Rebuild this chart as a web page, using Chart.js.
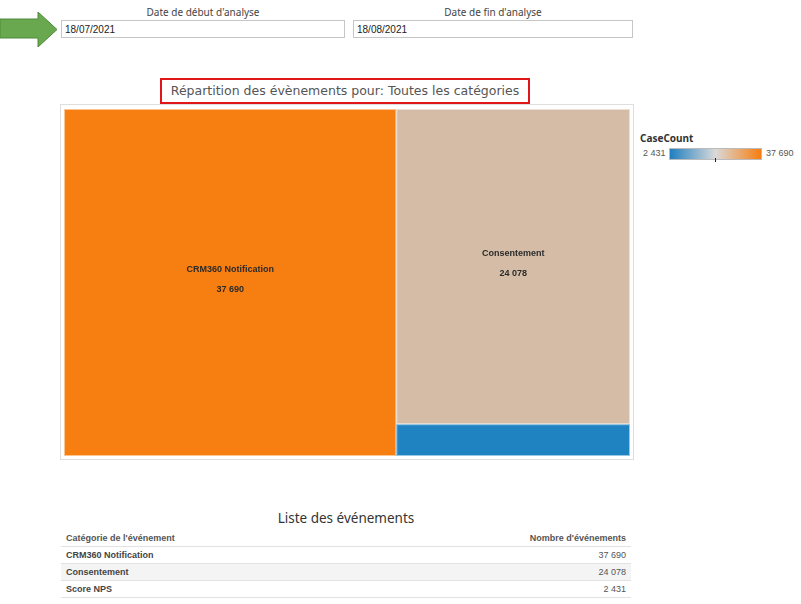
<!DOCTYPE html>
<html><head><meta charset="utf-8">
<script src="https://cdn.jsdelivr.net/npm/chart.js@4"></script>
<style>
html,body{margin:0;padding:0;background:#fff;width:801px;height:604px;overflow:hidden;font-family:"Liberation Sans",Arial,sans-serif;}
.abs{position:absolute;}
.lbl{font-family:"Noto Sans",sans-serif;font-size:10px;color:#444;text-align:center;}
.inp{border:1px solid #c6c6c6;height:16px;font-size:10px;color:#222;line-height:16px;padding-left:3px;box-sizing:border-box;font-family:"Liberation Sans",Arial,sans-serif;}
#title{left:160px;top:78px;width:370px;height:26px;border:2px solid #e0161b;box-sizing:border-box;text-align:center;font-family:"DejaVu Sans",sans-serif;font-size:12.5px;color:#555;line-height:22px;}
#frame{left:60px;top:104px;width:572px;height:354px;border:1px solid #dedede;}
#legT{left:640px;top:131px;font-size:10px;font-weight:bold;color:#333;font-family:"Noto Sans",sans-serif;}
.legv{font-size:9px;color:#555;top:148px;font-family:"Liberation Sans",Arial,sans-serif;}
#grad{left:669px;top:148px;width:93px;height:12px;box-sizing:border-box;border:1px solid #bbb;background:linear-gradient(to right,#1f7fc0,#d9d9d9 50%,#f77e10);}
#tick{left:715px;top:158px;width:1px;height:4px;background:#222;}
#tabT{left:61px;top:509px;width:570px;text-align:center;font-family:"Noto Sans",sans-serif;font-size:13.5px;color:#333;}
table{position:absolute;left:61px;top:530px;width:570px;border-collapse:collapse;font-size:9px;}
td{height:16px;padding:0 5px;border-bottom:1px solid #e2e2e2;font-weight:bold;color:#444;}
td.r{text-align:right;font-weight:normal;color:#555;}
tr.h td{color:#555;}
tr.g td{background:#f4f4f4;}
</style></head><body>
<svg class="abs" style="left:0;top:12px" width="60" height="36"><polygon points="0,7 38,7 38,0 57,17.5 38,35 38,26 0,26" fill="#6aa84f" stroke="#4e8a3a" stroke-width="1"/></svg>
<div class="abs lbl" style="left:61px;top:5px;width:284px;">Date de début d'analyse</div>
<div class="abs lbl" style="left:353px;top:5px;width:280px;">Date de fin d'analyse</div>
<div class="abs inp" style="left:61px;top:20px;width:284px;height:18px;line-height:17px;">18/07/2021</div>
<div class="abs inp" style="left:353px;top:20px;width:280px;height:18px;line-height:17px;">18/08/2021</div>
<div id="title" class="abs">Répartition des évènements pour: Toutes les catégories</div>
<div id="frame" class="abs"><canvas id="c" width="572" height="354"></canvas></div>
<div id="legT" class="abs">CaseCount</div>
<div id="legMin" class="abs legv" style="left:643px;"></div>
<div id="grad" class="abs"></div>
<div id="tick" class="abs"></div>
<div id="legMax" class="abs legv" style="left:766px;"></div>
<div id="tabT" class="abs">Liste des événements</div>
<table id="tbl"></table>
<script>
const categories = ['CRM360 Notification', 'Consentement', 'Score NPS'];
const counts = [37690, 24078, 2431];
const headers = ["Catégorie de l'événement", "Nombre d'événements"];
const colorStyles = ['#f77e10', '#d4bca6', '#1f82c1'];

const fmt = v => String(v).replace(/\B(?=(\d{3})+(?!\d))/g, ' ');
document.getElementById('legMin').textContent = fmt(Math.min(...counts));
document.getElementById('legMax').textContent = fmt(Math.max(...counts));

let html = '<tr class="h"><td>' + headers[0] + '</td><td class="r" style="font-weight:bold">' + headers[1] + '</td></tr>';
categories.forEach((c, i) => {
  html += '<tr class="' + (i === 1 ? 'g' : '') + '"><td>' + c + '</td><td class="r">' + fmt(counts[i]) + '</td></tr>';
});
document.getElementById('tbl').innerHTML = html;

const total = counts.reduce((a, b) => a + b, 0);
// treemap layout in data units: first item full-height column, rest stacked
function layout() {
  const rects = [];
  rects.push({x0: 0, x1: counts[0], y0: 0, y1: 1});
  const rest = total - counts[0];
  let y = 0;
  for (let i = 1; i < counts.length; i++) {
    const h = counts[i] / rest;
    rects.push({x0: counts[0], x1: total, y0: y, y1: y + h});
    y += h;
  }
  return rects;
}

const treemapPlugin = {
  id: 'treemap',
  afterDatasetsDraw(chart) {
    const ctx = chart.ctx, xs = chart.scales.x, ys = chart.scales.y;
    const rects = layout();
    rects.forEach((r, i) => {
      const px0 = xs.getPixelForValue(r.x0), px1 = xs.getPixelForValue(r.x1);
      const py0 = ys.getPixelForValue(r.y0), py1 = ys.getPixelForValue(r.y1);
      ctx.save();
      ctx.fillStyle = colorStyles[i];
      ctx.fillRect(px0, py0, px1 - px0, py1 - py0);
      ctx.strokeStyle = 'rgba(255,255,255,0.55)';
      ctx.lineWidth = 1;
      ctx.strokeRect(px0 + 0.5, py0 + 0.5, px1 - px0 - 1, py1 - py0 - 1);
      if (py1 - py0 > 40) {
        const cx = (px0 + px1) / 2, cy = (py0 + py1) / 2;
        ctx.fillStyle = '#2b2b2b';
        ctx.font = 'bold 9px "Liberation Sans", Arial, sans-serif';
        ctx.textAlign = 'center';
        ctx.textBaseline = 'middle';
        ctx.fillText(categories[i], cx, cy - 13);
        ctx.fillText(fmt(counts[i]), cx, cy + 7);
      }
      ctx.restore();
    });
  }
};

new Chart(document.getElementById('c'), {
  type: 'scatter',
  data: { datasets: [{ data: counts.map((v, i) => ({x: v, y: 0})), pointRadius: 0, showLine: false }] },
  options: {
    responsive: false, animation: false,
    layout: { padding: { left: 3, right: 3, top: 4, bottom: 3 } },
    scales: {
      x: { type: 'linear', min: 0, max: total, display: false },
      y: { type: 'linear', min: 0, max: 1, reverse: true, display: false }
    },
    plugins: { legend: { display: false }, tooltip: { enabled: false } }
  },
  plugins: [treemapPlugin]
});
</script>
</body></html>
